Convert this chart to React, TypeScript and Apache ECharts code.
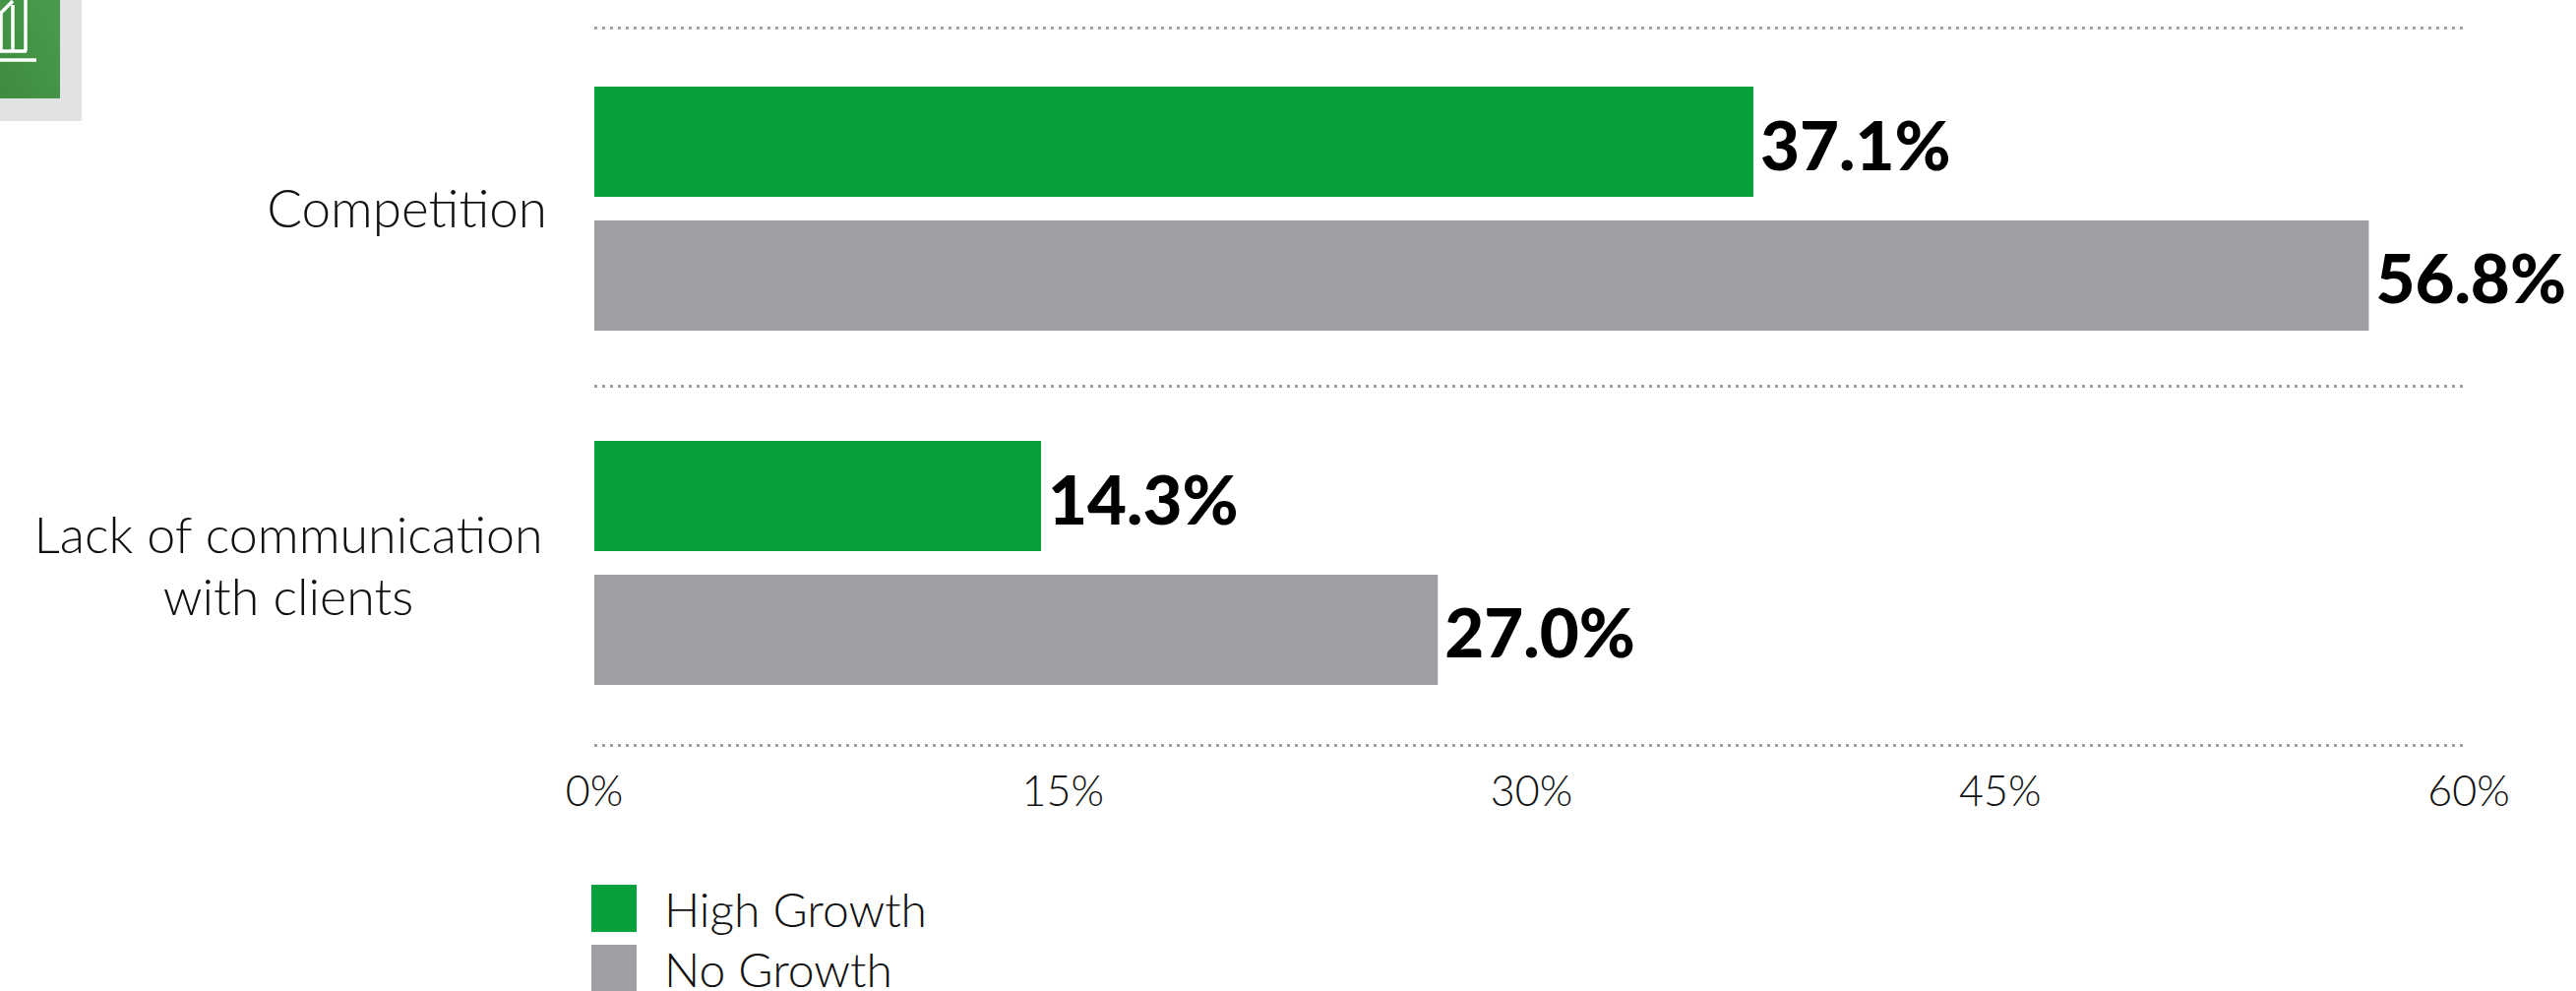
import React, { useEffect, useRef } from "react";
import * as echarts from "echarts";

const categories = ["Competition", "Lack of communication\nwith clients"];
const highGrowth = [37.1, 14.3];
const noGrowth = [56.8, 27.0];
const xTicks = { min: 0, max: 60, interval: 15 };

const GREEN = "#06a13a";
const GREY = "#9e9fa3";
const FONT = "Lato";

// Corner badge: grey tile, green panel and the white outline of the bar-chart pictogram.
const badge = [
  { type: "rect", shape: { x: 0, y: 0, width: 83, height: 123 }, style: { fill: "#e1e2e4" } },
  {
    type: "rect",
    shape: { x: 0, y: 0, width: 61, height: 100 },
    style: {
      fill: new echarts.graphic.LinearGradient(1, 0, 0, 1, [
        { offset: 0, color: "#4a9c4c" },
        { offset: 1, color: "#3f8b40" },
      ]),
    },
  },
  ...[
    [0, 61, 37, 61],
    [0, 52, 27, 52],
    [26, 0, 26, 52],
    [13, 5, 13, 52],
    [1, 14, 1, 52],
    [0, 14, 13, 1],
  ].map(([x1, y1, x2, y2]) => ({
    type: "line",
    shape: { x1, y1, x2, y2 },
    style: { stroke: "#ffffff", lineWidth: 3.5 },
  })),
];

function barSeries(name: string, values: number[], color: string) {
  return {
    name,
    type: "bar",
    data: values,
    xAxisIndex: 0,
    yAxisIndex: 0,
    barWidth: 112,
    barGap: "21.4%",
    itemStyle: { color },
    label: {
      show: true,
      position: "right",
      distance: 7,
      offset: [0, 2],
      color: "#000000",
      fontFamily: FONT,
      fontWeight: 900,
      fontSize: 69,
      formatter: (p: { value: number }) => `${p.value.toFixed(1)}%`,
    },
  };
}

export default function App() {
  const ref = useRef<HTMLDivElement>(null);

  useEffect(() => {
    const chart = echarts.init(ref.current!, undefined, { renderer: "svg" });
    const twoLine = {
      color: "#111111",
      fontFamily: FONT,
      fontWeight: 300,
      fontSize: 52,
      lineHeight: 65,
      width: 526,
      align: "center",
    };
    chart.setOption({
      animation: false,
      backgroundColor: "#ffffff",
      graphic: badge,
      grid: [
        { left: 604, top: 32, width: 1905, height: 720 },
        { left: 604, top: 28, width: 1899, height: 729 },
      ],
      xAxis: [
        {
          type: "value",
          gridIndex: 0,
          ...xTicks,
          axisLine: { show: false },
          axisTick: { show: false },
          splitLine: { show: false },
          axisLabel: {
            margin: 29,
            color: "#111111",
            fontFamily: FONT,
            fontWeight: 300,
            fontSize: 43,
            formatter: "{value}%",
          },
        },
        { type: "value", gridIndex: 1, show: false, min: 0, max: 60 },
      ],
      yAxis: [
        {
          type: "category",
          gridIndex: 0,
          inverse: true,
          data: categories,
          axisLine: { show: false },
          axisTick: { show: false },
          splitLine: { show: false },
          axisLabel: {
            interval: 0,
            margin: 48,
            formatter: (v: string) => {
              const [first, second] = v.split("\n");
              return second ? `{first|${first}}\n{second|${second}}` : `{single|${first}}`;
            },
            rich: {
              single: {
                color: "#111111",
                fontFamily: FONT,
                fontWeight: 300,
                fontSize: 53,
                padding: [0, 0, 3, 0],
              },
              first: { ...twoLine, padding: [5, 0, 0, 0] },
              second: twoLine,
            },
          },
        },
        // Dotted separators above, between and below the two groups.
        {
          type: "category",
          gridIndex: 1,
          data: categories,
          axisLine: { show: false },
          axisTick: { show: false },
          axisLabel: { show: false },
          splitLine: {
            show: true,
            interval: 0,
            lineStyle: { color: "#a0a0a0", width: 3, type: [3, 5] },
          },
        },
      ],
      legend: {
        orient: "vertical",
        left: 601,
        top: 899,
        height: 200,
        padding: 0,
        itemWidth: 46,
        itemHeight: 48,
        itemGap: 13,
        textStyle: {
          color: "#111111",
          fontFamily: FONT,
          fontWeight: 300,
          fontSize: 48,
          lineHeight: 36,
          padding: [6, 0, 0, 23],
        },
        data: [
          { name: "High Growth", icon: "rect" },
          { name: "No Growth", icon: "rect" },
        ],
      },
      series: [barSeries("High Growth", highGrowth, GREEN), barSeries("No Growth", noGrowth, GREY)],
    });
    return () => chart.dispose();
  }, []);

  return <div ref={ref} style={{ position: "absolute", left: 0, top: 0, width: 2618, height: 1007 }} />;
}
